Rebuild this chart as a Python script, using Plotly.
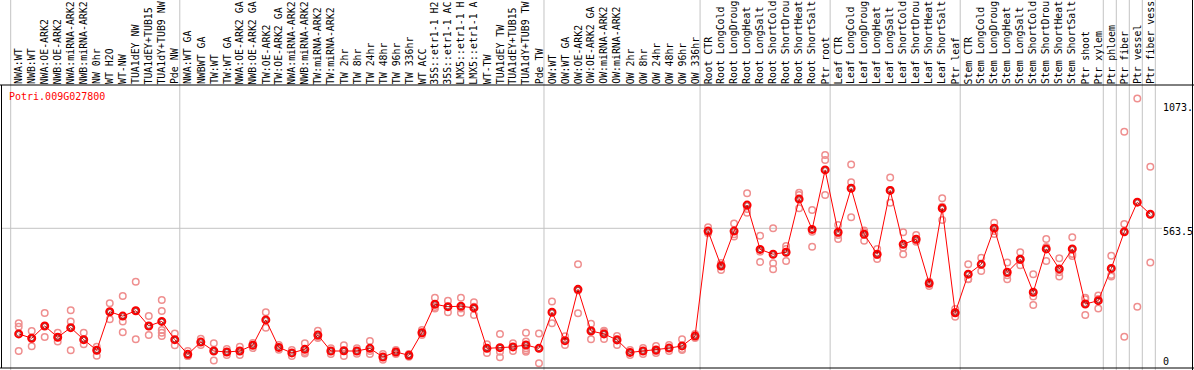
import plotly.graph_objects as go

title = "Potri.009G027800"

labels_nw = ["NWA:WT", "NWB:WT", "NWA:OE-ARK2", "NWB:OE-ARK2", "NWA:miRNA-ARK2", "NWB:miRNA-ARK2",
             "NW 0hr", "WT H2O", "WT-NW", "TUA1dEY NW", "TUA1dEY+TUB15 NW", "TUA1dY+TUB9 NW", "Pde NW"]
labels_tw = ["NWA:WT GA", "NWBWT GA", "TW:WT", "TW:WT GA", "NWA:OE-ARK2 GA", "NWB:OE-ARK2 GA",
             "TW:OE-ARK2", "TW:OE-ARK2 GA", "NWA:miRNA-ARK2 GA", "NWB:miRNA-ARK2 GA", "TW:miRNA-ARK2",
             "TW:miRNA-ARK2 GA", "TW 2hr", "TW 8hr", "TW 24hr", "TW 48hr", "TW 96hr", "TW 336hr", "WT ACC",
             "35S::etr1-1 H2O", "35S::etr1-1 ACC", "LMX5::etr1-1 H2O", "LMX5::etr1-1 ACC", "WT-TW",
             "TUA1dEY TW", "TUA1dEY+TUB15 TW", "TUA1dY+TUB9 TW", "Pde TW"]
labels_ow = ["OW:WT", "OW:WT GA", "OW:OE-ARK2", "OW:OE-ARK2 GA", "OW:miRNA-ARK2", "OW:miRNA-ARK2 GA",
             "OW 2hr", "OW 8hr", "OW 24hr", "OW 48hr", "OW 96hr", "OW 336hr"]
labels_root = ["Root CTR", "Root LongCold", "Root LongDrought", "Root LongHeat", "Root LongSalt",
               "Root ShortCold", "Root ShortDrought", "Root ShortHeat", "Root ShortSalt", "Ptr root"]
labels_leaf = ["Leaf CTR", "Leaf LongCold", "Leaf LongDrought", "Leaf LongHeat", "Leaf LongSalt",
               "Leaf ShortCold", "Leaf ShortDrought", "Leaf ShortHeat", "Leaf ShortSalt", "Ptr leaf"]
labels_stem = ["Stem CTR", "Stem LongCold", "Stem LongDrought", "Stem LongHeat", "Stem LongSalt",
               "Stem ShortCold", "Stem ShortDrought", "Stem ShortHeat", "Stem ShortSalt", "Ptr shoot", "Ptr xylem"]
labels_ptr = ["Ptr phloem", "Ptr fiber", "Ptr vessel", "Ptr fiber vessel"]

means_nw = [125, 107, 158, 111, 151, 101, 57, 217, 199, 221, 158, 177, 101]
means_tw = [40, 91, 54, 50, 54, 78, 183, 69, 46, 61, 120, 54, 55, 54, 65, 29, 50, 36, 130, 248, 238, 240,
            233, 65, 68, 71, 79, 65]
means_ow = [215, 97, 310, 137, 125, 100, 48, 54, 58, 66, 75, 116]
means_root = [552, 407, 552, 660, 476, 456, 464, 685, 559, 806]
means_leaf = [547, 730, 539, 456, 721, 497, 518, 335, 647, 213]
means_stem = [373, 414, 564, 381, 435, 298, 478, 395, 478, 249, 263]
means_ptr = [397, 549, 672, 622]

reps_nw = [[169, 155, 54], [137, 108, 74], [212, 158, 112], [130, 111, 93], [223, 177, 57], [130, 101, 82],
           [72, 57, 34], [252, 217, 186], [282, 176, 132], [342, 221, 103], [199, 158, 120],
           [266, 220, 141, 130, 116], [127, 78]]
reps_tw = [[54, 33, 33], [105, 79], [86, 54, 15], [62, 50, 37], [72, 37], [87, 66], [215, 151], [79, 59],
           [58, 33], [86, 50, 44], [138, 113, 108], [65, 42], [78, 33], [65, 43], [96, 54, 42], [42, 18],
           [58, 42], [42, 30], [141, 120], [275, 237, 231], [263, 215], [275, 230, 213], [256, 238, 203],
           [82, 46], [125, 51, 28], [86, 54], [130, 93, 65, 51, 57], [127, 3]]
reps_ow = [[260, 169], [79, 115], [414, 305, 211], [167, 141, 103], [138, 133, 104], [116, 104, 79],
           [58, 37], [66, 42], [75, 54, 46], [79, 54], [103, 62, 58], [125, 108]]
reps_root = [[568, 545, 543], [419, 411, 390], [584, 539, 529], [709, 644, 628], [533, 466, 424],
             [564, 418, 393], [490, 478, 428], [711, 702, 647], [640, 549, 487], [868, 847, 702]]
reps_leaf = [[577, 536, 519], [829, 755, 609], [554, 548, 512], [478, 453, 436], [775, 723, 670],
             [547, 483, 456], [536, 511, 508], [342, 341, 324], [688, 653, 598], [228, 215, 196]]
reps_stem = [[414, 353, 352], [441, 386], [587, 552, 540], [422, 369, 352], [464, 432, 410], [373, 280, 245],
             [519, 486, 428], [439, 381, 363], [526, 457, 449], [275, 269, 203], [284, 270, 231]]
reps_ptr = [[450, 370, 363], [965, 581, 113], [1103, 238], [819, 422]]

group_labels = [labels_nw, labels_tw, labels_ow, labels_root, labels_leaf, labels_stem,
                ["Ptr phloem"], ["Ptr fiber"], ["Ptr vessel"], ["Ptr fiber vessel"]]

y_tick_vals = [0, 563.5, 1073]
y_tick_text = ["0", "563.5", "1073."]

# ---- assemble ----
labels = labels_nw + labels_tw + labels_ow + labels_root + labels_leaf + labels_stem + labels_ptr
means = means_nw + means_tw + means_ow + means_root + means_leaf + means_stem + means_ptr
reps = reps_nw + reps_tw + reps_ow + reps_root + reps_leaf + reps_stem + reps_ptr

MAXCH = 14  # the label band only has room for 14 characters
shown_labels = [lab[:MAXCH].rstrip() for lab in labels]

OFF = 0.615
xs = [i + OFF for i in range(len(labels))]
rx, ry = [], []
for xi, rr in zip(xs, reps):
    for v in rr:
        rx.append(xi)
        ry.append(v)

bounds = [0]
for g in group_labels:
    bounds.append(bounds[-1] + len(g))

W, H = 1194, 370
TOP, BOT = 85, 368
PH = BOT - TOP
col_w = 13.007
x0px = 10.7
xr = [-x0px / col_w, (W - x0px) / col_w]
y0px = 364.0
upp = 4.153  # data units per pixel
yr = [(y0px - BOT) * upp, (y0px - TOP) * upp]


def py2paper(py):
    return (BOT - py) / PH


FONT = "DejaVu Sans Mono"

fig = go.Figure()
fig.add_trace(go.Scatter(x=rx, y=ry, mode="markers", hoverinfo="skip",
                         marker=dict(symbol="circle-open", size=6.5, color="#ef8f8f", line=dict(width=1.5))))
fig.add_trace(go.Scatter(x=xs, y=means, mode="lines", hoverinfo="skip",
                         line=dict(color="#ff0000", width=1)))
fig.add_trace(go.Scatter(x=xs, y=means, mode="markers", hoverinfo="skip",
                         marker=dict(symbol="circle-open", size=7, color="#ff0000", line=dict(width=2))))
fig.add_trace(go.Scatter(x=xs, y=means, mode="markers", hoverinfo="skip",
                         marker=dict(symbol="circle-open", size=4.5, color="#7a0000", line=dict(width=0.7))))

shapes = []
for b in bounds:
    shapes.append(dict(type="line", xref="x", yref="paper", x0=b, x1=b, y0=py2paper(371), y1=py2paper(-1),
                       line=dict(color="#c3c3c3", width=1), layer="below"))
shapes.append(dict(type="line", xref="paper", yref="y", x0=1 / W, x1=1162 / W, y0=563.5, y1=563.5,
                   line=dict(color="#c3c3c3", width=1), layer="below"))
# borders
shapes.append(dict(type="line", xref="paper", yref="paper", x0=0, x1=1, y0=1, y1=1,
                   line=dict(color="black", width=1)))
shapes.append(dict(type="line", xref="paper", yref="paper", x0=0, x1=1, y0=0, y1=0,
                   line=dict(color="black", width=1)))
shapes.append(dict(type="line", xref="paper", yref="paper", x0=1.5 / W, x1=1.5 / W, y0=0, y1=1,
                   line=dict(color="black", width=1)))
shapes.append(dict(type="line", xref="paper", yref="paper", x0=1192.5 / W, x1=1192.5 / W,
                   y0=py2paper(371), y1=py2paper(-1), line=dict(color="black", width=1)))

ann = []
for xi, lab in zip(xs, shown_labels):
    ann.append(dict(x=xi, xref="x", y=py2paper(84.3), yref="paper", text=lab, textangle=-90,
                    xanchor="center", yanchor="bottom", showarrow=False, borderpad=0, borderwidth=0,
                    font=dict(family=FONT, size=9.9, color="black")))
ann.append(dict(x=9 / W, xref="paper", y=py2paper(97), yref="paper", text=title, xanchor="left",
                yanchor="middle", showarrow=False, borderpad=0, borderwidth=0,
                font=dict(family=FONT, size=10, color="#ff0000")))
tick_shift = [2.3, -3.4, -1.7]
for v, t, s in zip(y_tick_vals, y_tick_text, tick_shift):
    ann.append(dict(x=1163 / W, xref="paper", y=v, yref="y", yshift=s, text=t, xanchor="left",
                    yanchor="middle", showarrow=False, borderpad=0, borderwidth=0,
                    font=dict(family=FONT, size=10, color="black")))

fig.update_layout(
    width=W, height=H,
    margin=dict(l=0, r=0, t=TOP, b=H - BOT, pad=0),
    paper_bgcolor="white", plot_bgcolor="white",
    showlegend=False,
    xaxis=dict(range=xr, visible=False, showgrid=False, zeroline=False, fixedrange=True),
    yaxis=dict(range=yr, visible=False, showgrid=False, zeroline=False, fixedrange=True),
    shapes=shapes, annotations=ann,
)

fig.write_html("out.html", config={"displayModeBar": False},
               post_script="document.body.style.margin='0';document.body.style.overflow='hidden';")
